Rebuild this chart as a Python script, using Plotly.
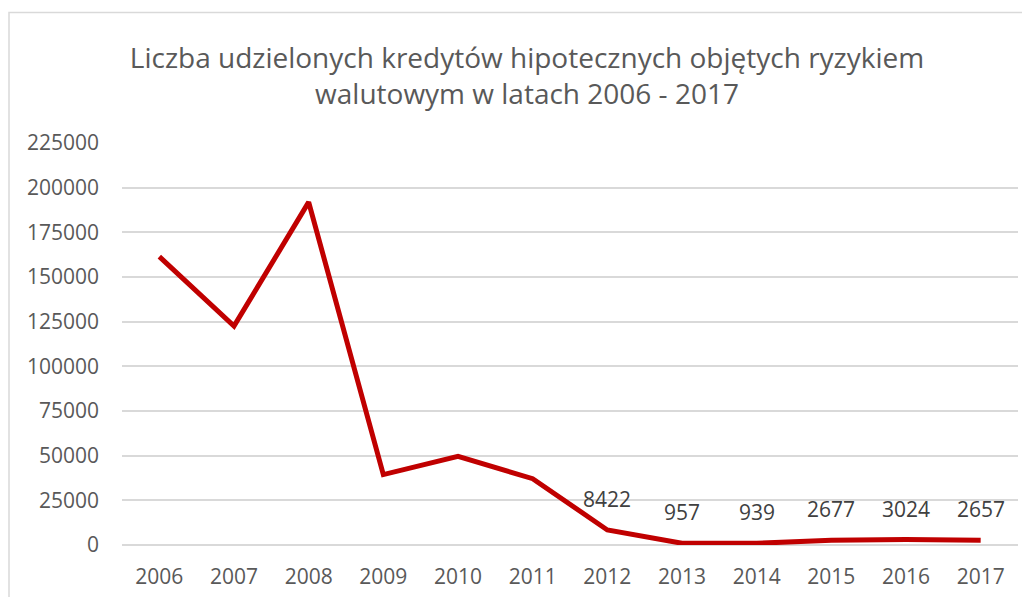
import plotly.graph_objects as go

years = ["2006", "2007", "2008", "2009", "2010", "2011", "2012", "2013", "2014", "2015", "2016", "2017"]
values = [161400, 122500, 191900, 39400, 49600, 37100, 8422, 957, 939, 2677, 3024, 2657]
labeled_years = ["2012", "2013", "2014", "2015", "2016", "2017"]
tick_vals = [0, 25000, 50000, 75000, 100000, 125000, 150000, 175000, 200000, 225000]

# page has an 8px body margin, so the figure is drawn 8px smaller
W, H = 1022, 589
L, R, T, B = 114, 12, 135, 52

fig = go.Figure()
fig.add_trace(go.Scatter(
    x=years, y=values, mode="lines",
    line=dict(color="#C00000", width=5),
    hoverinfo="x+y",
))

for i, (yr, v) in enumerate(zip(years, values)):
    if yr in labeled_years:
        fig.add_annotation(x=i, y=v, xref="x", yref="y", text=str(v), showarrow=False,
                           yshift=31, yanchor="middle", xanchor="center",
                           font=dict(family="Open Sans", size=21, color="#404040"))

pw = W - L - R
ph = H - T - B
fig.add_shape(type="rect", xref="paper", yref="paper",
              x0=(1 - L) / pw, x1=(1040 - L) / pw,
              y0=(H - B - 610) / ph, y1=(H - B - 4.5) / ph,
              line=dict(color="#d9d9d9", width=1.5), fillcolor="rgba(0,0,0,0)", layer="below")

fig.update_layout(
    width=W, height=H,
    margin=dict(l=L, r=R, t=T, b=B, autoexpand=False),
    paper_bgcolor="white", plot_bgcolor="white",
    showlegend=False,
    title=dict(
        text="Liczba udzielonych kredytów hipotecznych objętych ryzykiem<br>walutowym w latach 2006 - 2017",
        x=519 / W, xref="container", xanchor="center", y=1 - 59.5 / H, yanchor="middle",
        font=dict(family="Open Sans", size=28, color="#595959"),
    ),
    xaxis=dict(
        type="category", range=[-0.5, len(years) - 0.5], autorange=False,
        showgrid=False, showline=False, zeroline=False, automargin=False,
        ticks="", tickfont=dict(family="Open Sans", size=21, color="#595959"),
        ticklabelstandoff=17,
    ),
    yaxis=dict(
        range=[0, 225000], autorange=False, tickvals=tick_vals, ticktext=[str(v) for v in tick_vals],
        automargin=False,
        showgrid=True, gridcolor="#d9d9d9", gridwidth=1.5,
        zeroline=True, zerolinecolor="#d9d9d9", zerolinewidth=1.5,
        showline=False, ticks="",
        tickfont=dict(family="Open Sans", size=21, color="#595959"),
        ticklabelstandoff=22,
    ),
)

fig.write_html("out.html")
